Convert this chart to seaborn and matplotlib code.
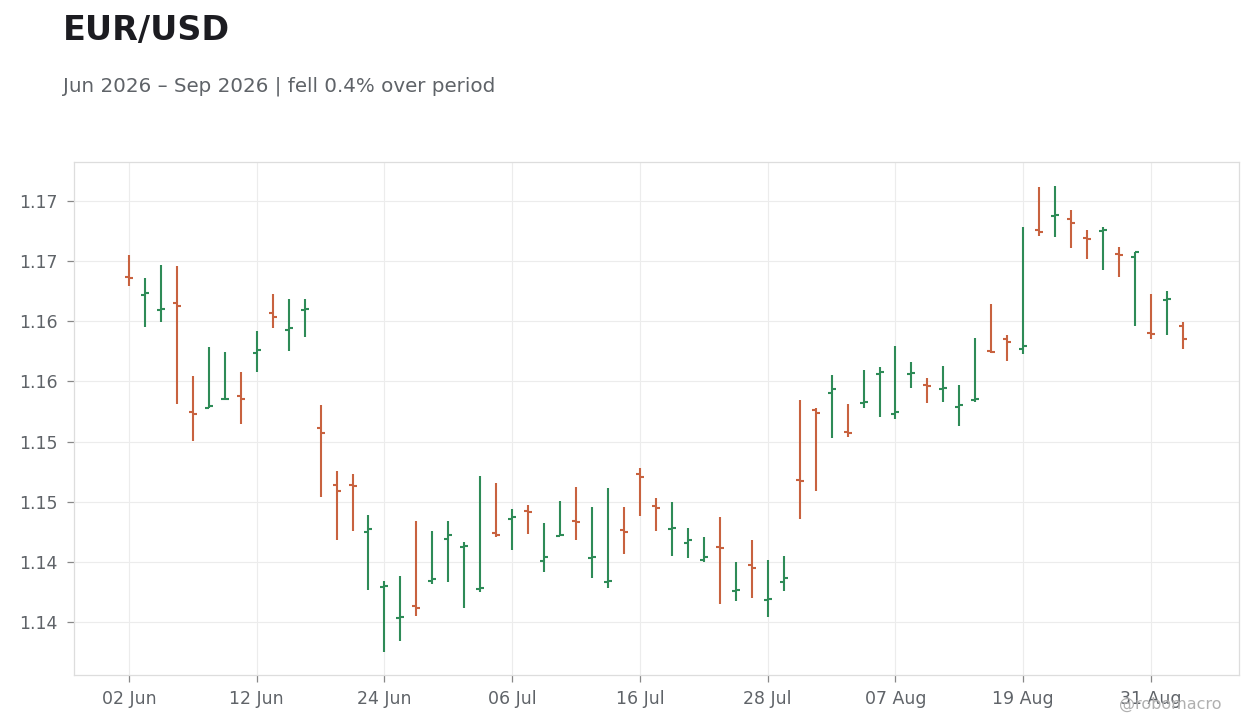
import matplotlib
matplotlib.use("Agg")
import matplotlib.pyplot as plt
import seaborn as sns
import pandas as pd
import numpy as np
from decimal import Decimal, ROUND_HALF_UP
from matplotlib.ticker import FixedLocator, FuncFormatter

# ---------------- data ----------------
start_date = "2026-06-02"
n_bars = 67
dates = pd.bdate_range(start_date, periods=n_bars)

open_ = [1.16368, 1.16219, 1.16094, 1.16150, 1.15248, 1.15282, 1.15352, 1.15381, 1.15739, 1.16072,
         1.15930, 1.16097, 1.15115, 1.14642, 1.14642, 1.14248, 1.13791, 1.13533, 1.13636, 1.13838,
         1.14193, 1.14126, 1.13774, 1.14242, 1.14359, 1.14425, 1.14010, 1.14218, 1.14342, 1.14035,
         1.13835, 1.14262, 1.14733, 1.14467, 1.14273, 1.14159, 1.14018, 1.14126, 1.13760, 1.13976,
         1.13685, 1.13835, 1.14683, 1.15265, 1.15406, 1.15082, 1.15323, 1.15564, 1.15232, 1.15562,
         1.15473, 1.15437, 1.15290, 1.15348, 1.15756, 1.15855, 1.15772, 1.16762, 1.16878, 1.16853,
         1.16688, 1.16751, 1.16562, 1.16537, 1.15905, 1.16177, 1.15963]
high = [1.16551, 1.16360, 1.16468, 1.16460, 1.15545, 1.15786, 1.15745, 1.15579, 1.15919, 1.16227,
        1.16185, 1.16185, 1.15304, 1.14755, 1.14730, 1.14390, 1.13841, 1.13882, 1.14340, 1.14257,
        1.14340, 1.14165, 1.14714, 1.14656, 1.14439, 1.14473, 1.14323, 1.14506, 1.14622, 1.14456,
        1.14614, 1.14456, 1.14780, 1.14531, 1.14498, 1.14282, 1.14207, 1.14373, 1.13999, 1.14182,
        1.14015, 1.14049, 1.15346, 1.15275, 1.15554, 1.15312, 1.15595, 1.15620, 1.15795, 1.15662,
        1.15529, 1.15628, 1.15470, 1.15861, 1.16144, 1.15886, 1.16784, 1.17117, 1.17125, 1.16925,
        1.16759, 1.16784, 1.16620, 1.16579, 1.16227, 1.16252, 1.15994]
low = [1.16294, 1.15953, 1.15994, 1.15312, 1.15005, 1.15277, 1.15343, 1.15149, 1.15581, 1.15947,
       1.15756, 1.15872, 1.14542, 1.14184, 1.14259, 1.13769, 1.13253, 1.13345, 1.13552, 1.13818,
       1.13835, 1.13619, 1.13752, 1.14209, 1.14101, 1.14234, 1.13918, 1.14213, 1.14184, 1.13868,
       1.13785, 1.14068, 1.14384, 1.14259, 1.14051, 1.14035, 1.14001, 1.13652, 1.13677, 1.13702,
       1.13544, 1.13760, 1.14359, 1.14592, 1.15032, 1.15041, 1.15282, 1.15207, 1.15190, 1.15448,
       1.15323, 1.15332, 1.15132, 1.15332, 1.15739, 1.15672, 1.15731, 1.16712, 1.16703, 1.16612,
       1.16520, 1.16429, 1.16371, 1.15963, 1.15855, 1.15889, 1.15772]
close = [1.16360, 1.16231, 1.16098, 1.16130, 1.15232, 1.15293, 1.15357, 1.15357, 1.15764, 1.16038,
         1.15947, 1.16105, 1.15071, 1.14592, 1.14631, 1.14276, 1.13797, 1.13544, 1.13616, 1.13860,
         1.14226, 1.14134, 1.13779, 1.14223, 1.14375, 1.14417, 1.14043, 1.14226, 1.14334, 1.14043,
         1.13843, 1.14251, 1.14708, 1.14450, 1.14277, 1.14184, 1.14043, 1.14118, 1.13769, 1.13951,
         1.13694, 1.13868, 1.14675, 1.15240, 1.15440, 1.15074, 1.15332, 1.15581, 1.15248, 1.15566,
         1.15465, 1.15441, 1.15307, 1.15357, 1.15747, 1.15830, 1.15797, 1.16745, 1.16886, 1.16820,
         1.16684, 1.16755, 1.16554, 1.16574, 1.15897, 1.16181, 1.15855]

y_ticks = [1.135, 1.140, 1.145, 1.150, 1.155, 1.160, 1.165, 1.170]
x_tick_every = 8

title = "EUR/USD"
subtitle = "Jun 2026 \u2013 Sep 2026 | fell 0.4% over period"
watermark = "@robomacro"

UP = "#2e8b57"
DOWN = "#c8623f"

# ---------------- frame ----------------
df = pd.DataFrame({"date": dates, "open": open_, "high": high, "low": low, "close": close})
df["i"] = np.arange(len(df))
df["dir"] = np.where(df["close"] >= df["open"], "up", "down")

long = pd.concat([
    df[["i", "dir"]].assign(price=df["low"]),
    df[["i", "dir"]].assign(price=df["high"]),
]).sort_values(["i"]).reset_index(drop=True)

# ---------------- style ----------------
sns.set_theme(style="whitegrid")
plt.rcParams["font.family"] = ["DejaVu Sans"]
plt.rcParams.update({
    "grid.color": "#ececec",
    "grid.linewidth": 0.8,
    "axes.edgecolor": "#dddddd",
    "axes.linewidth": 0.9,
})

fig = plt.figure(figsize=(12.6, 7.28), dpi=100)
fig.patch.set_facecolor("white")
ax = fig.add_axes([74 / 1260, 53 / 728, (1239 - 74) / 1260, (675 - 162) / 728])

sns.lineplot(data=long, x="i", y="price", units="i", estimator=None, hue="dir",
             palette={"up": UP, "down": DOWN}, legend=False, linewidth=1.5,
             solid_capstyle="butt", sort=False, ax=ax)

tick_w = 0.25
for d, col in (("up", UP), ("down", DOWN)):
    sub = df[df["dir"] == d]
    ax.hlines(sub["open"], sub["i"] - tick_w, sub["i"], color=col, linewidth=1.5)
    ax.hlines(sub["close"], sub["i"], sub["i"] + tick_w, color=col, linewidth=1.5)

ax.set_xlim(-3.44, 69.51)
ax.set_ylim(1.13059, 1.17324)

xt = list(range(0, n_bars, x_tick_every))
ax.xaxis.set_major_locator(FixedLocator(xt))
ax.set_xticklabels([dates[k].strftime("%d %b") for k in xt])
ax.yaxis.set_major_locator(FixedLocator(y_ticks))


def fmt(v, pos):
    return str(Decimal(f"{v:.4f}").quantize(Decimal("0.01"), rounding=ROUND_HALF_UP))


ax.yaxis.set_major_formatter(FuncFormatter(fmt))
ax.set_xlabel("")
ax.set_ylabel("")
ax.tick_params(axis="both", which="major", labelsize=12.5, labelcolor="#5f6368",
               length=5, width=0.9, color="#888888", bottom=True, left=True)
ax.tick_params(axis="y", pad=7)
ax.tick_params(axis="x", pad=6)
ax.grid(True, which="major", color="#ececec", linewidth=0.8)
for s in ax.spines.values():
    s.set_color("#dddddd")
    s.set_linewidth(0.9)

fig.text(63 / 1260, 1 - 40 / 728, title, fontsize=24, fontweight="bold",
         color="#1c1c21", va="baseline", ha="left")
fig.text(63 / 1260, 1 - 92 / 728, subtitle, fontsize=14.35, color="#5f6368",
         va="baseline", ha="left")
fig.text(1222 / 1260, 1 - 709 / 728, watermark, fontsize=11.5, color="#b0b0b0",
         va="baseline", ha="right")

fig.savefig("out.png", dpi=100, facecolor="white")
